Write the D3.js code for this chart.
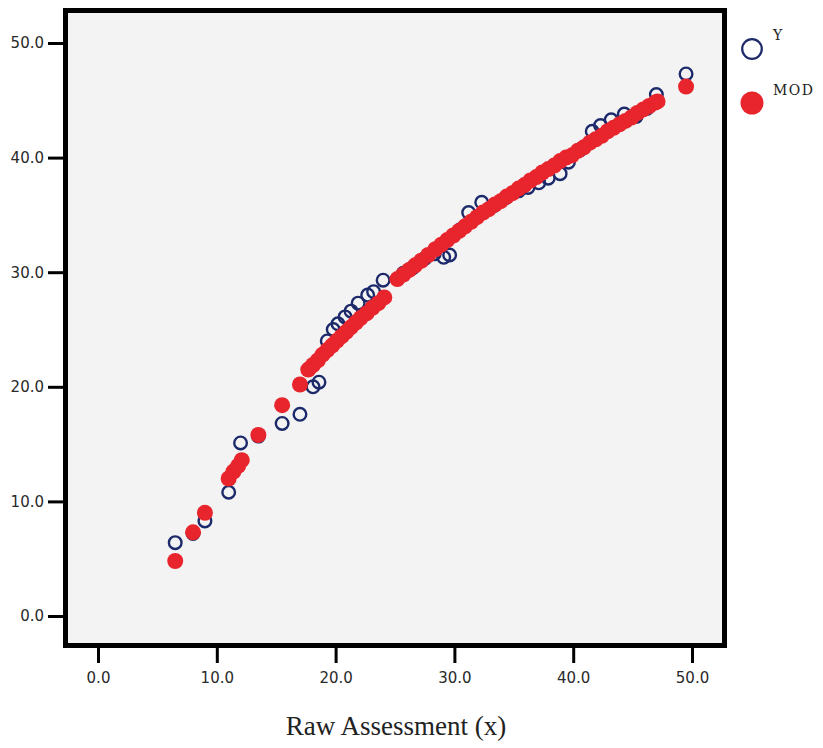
<!DOCTYPE html>
<html>
<head>
<meta charset="utf-8">
<script src="https://cdn.jsdelivr.net/npm/d3@7"></script>
<style>
  html, body { margin: 0; padding: 0; background: #fff; }
  svg { display: block; }
</style>
</head>
<body>
<svg id="chart" width="823" height="748"></svg>
<script>
var yX = [6.5, 8.0, 9.0, 11.0, 12.0, 13.5, 15.5, 17.0, 18.1, 18.6, 19.3, 19.8, 20.2, 20.8, 21.3, 21.9,
  22.7, 23.2, 24.0, 25.7, 26.5, 27.5, 28.3, 29.1, 29.6, 30.5, 31.2, 32.3, 33.3, 34.3, 35.4, 36.2,
  37.1, 37.9, 38.9, 39.6, 40.6, 41.6, 42.3, 43.2, 44.3, 45.3, 46.2, 47.0, 49.5];
var yY = [6.4, 7.2, 8.3, 10.8, 15.1, 15.7, 16.8, 17.6, 20.0, 20.4, 24.0, 25.0, 25.5, 26.1, 26.6, 27.3,
  28.0, 28.3, 29.3, 29.9, 30.4, 31.2, 31.6, 31.3, 31.5, 33.7, 35.2, 36.1, 35.8, 36.5, 37.1, 37.4,
  37.8, 38.2, 38.6, 39.6, 40.7, 42.3, 42.8, 43.3, 43.8, 43.6, 44.3, 45.5, 47.3];

var modX = [6.5, 8.0, 9.0, 11.0, 11.4, 11.8, 12.1, 13.5, 15.5, 17.0, 17.7, 18.1, 18.5, 18.9, 19.3, 19.7,
  20.1, 20.5, 20.9, 21.3, 21.7, 22.1, 22.6, 23.1, 23.6, 24.1, 25.2, 25.7, 26.2, 26.7, 27.2, 27.8,
  28.4, 28.9, 29.4, 29.9, 30.4, 30.9, 31.4, 31.9, 32.4, 32.9, 33.4, 33.9, 34.4, 34.9, 35.4, 35.9,
  36.4, 36.9, 37.4, 37.9, 38.4, 38.9, 39.4, 39.9, 40.4, 40.9, 41.4, 41.9, 42.4, 42.9, 43.4, 43.9,
  44.4, 44.9, 45.4, 45.9, 46.4, 46.9, 47.1, 49.5];
var modY = [4.8, 7.3, 9.0, 12.0, 12.6, 13.1, 13.6, 15.8, 18.4, 20.2, 21.5, 21.9, 22.3, 22.8, 23.2, 23.6,
  24.0, 24.4, 24.8, 25.2, 25.6, 26.0, 26.4, 26.9, 27.3, 27.8, 29.4, 29.8, 30.2, 30.6, 31.0, 31.5,
  32.0, 32.4, 32.8, 33.2, 33.6, 34.0, 34.4, 34.8, 35.2, 35.5, 35.9, 36.2, 36.6, 36.9, 37.3, 37.6,
  38.0, 38.3, 38.7, 39.0, 39.3, 39.7, 40.0, 40.2, 40.6, 40.9, 41.3, 41.6, 41.9, 42.3, 42.6, 42.9,
  43.2, 43.5, 43.9, 44.2, 44.5, 44.8, 44.9, 46.2];

var tickValues = [0, 10, 20, 30, 40, 50];
var seriesNames = ['Y', 'MOD'];
var xTitle = 'Raw Assessment (x)';

var navy = '#1c2a6b';
var red = '#e8242c';

var drawChart = function () {
  let svg = d3.select('#chart');

  // frame of the plot area (outer edges)
  let box = {left: 63, top: 8, right: 727, bottom: 648};

  let x = d3.scaleLinear().domain([0, 50]).range([98, 692]);
  let y = d3.scaleLinear().domain([0, 50]).range([616, 43]);

  svg.append('rect')
    .attr('x', box.left + 2.5).attr('y', box.top + 2.5)
    .attr('width', box.right - box.left - 5).attr('height', box.bottom - box.top - 5)
    .attr('fill', '#f3f3f3')
    .attr('stroke', '#000')
    .attr('stroke-width', 5);

  // axes: ticks stick out of the frame
  let fmt = d3.format('.1f');
  let yAxis = svg.append('g')
    .attr('transform', `translate(${box.left},0)`)
    .call(d3.axisLeft(y).tickValues(tickValues).tickFormat(fmt).tickSize(15).tickPadding(4));
  let xAxis = svg.append('g')
    .attr('transform', `translate(0,${box.bottom})`)
    .call(d3.axisBottom(x).tickValues(tickValues).tickFormat(fmt).tickSize(15).tickPadding(9));

  [xAxis, yAxis].forEach(function (g) {
    g.select('.domain').remove();
    g.selectAll('.tick line').attr('stroke', '#000').attr('stroke-width', 3);
    g.selectAll('.tick text')
      .attr('fill', '#2a2a2a')
      .style('font-family', '"DejaVu Sans", sans-serif')
      .style('font-size', '15px');
  });

  svg.append('text')
    .attr('x', 396).attr('y', 735)
    .attr('text-anchor', 'middle')
    .style('font-family', '"Liberation Serif", serif')
    .style('font-size', '27px')
    .attr('fill', '#222')
    .text(xTitle);

  // observed values, open circles
  let yPts = d3.zip(yX, yY);
  svg.append('g').selectAll('circle')
    .data(yPts).join('circle')
    .attr('cx', d => x(d[0])).attr('cy', d => y(d[1]))
    .attr('r', 6.3)
    .attr('fill', 'none')
    .attr('stroke', navy)
    .attr('stroke-width', 2.4);

  // model predictions, filled circles drawn on top
  let modPts = d3.zip(modX, modY);
  svg.append('g').selectAll('circle')
    .data(modPts).join('circle')
    .attr('cx', d => x(d[0])).attr('cy', d => y(d[1]))
    .attr('r', 8)
    .attr('fill', red);

  // legend
  let legend = svg.append('g');
  legend.append('circle')
    .attr('cx', 752).attr('cy', 49).attr('r', 9.8)
    .attr('fill', 'none').attr('stroke', navy).attr('stroke-width', 2.2);
  legend.append('circle')
    .attr('cx', 752).attr('cy', 103).attr('r', 11.5)
    .attr('fill', red);
  legend.selectAll('text')
    .data(seriesNames).join('text')
    .attr('x', 773)
    .attr('y', (d, i) => i === 0 ? 40 : 95)
    .style('font-family', '"DejaVu Serif", serif')
    .style('font-size', '14px')
    .style('letter-spacing', '1.5px')
    .attr('fill', '#222')
    .text(d => d);
};

document.addEventListener('DOMContentLoaded', function () {
  drawChart();
}, false);
</script>
</body>
</html>
